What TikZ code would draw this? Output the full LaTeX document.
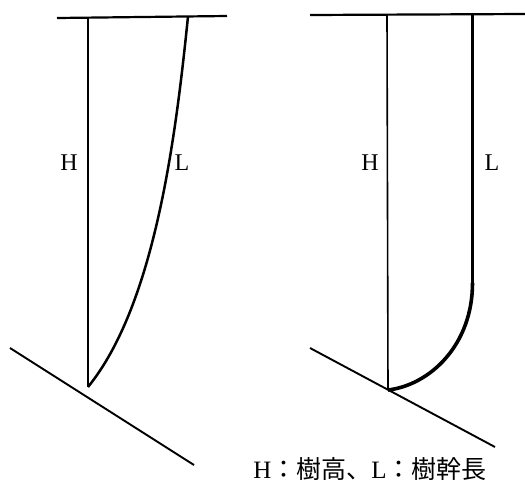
\documentclass[tikz,border=0pt]{standalone}
\usepackage{fontspec}
\setmainfont{Liberation Serif}
\newfontfamily\cjkfont{Noto Sans CJK JP}
\begin{document}
\begin{tikzpicture}[x=1pt,y=-1pt,
  topline/.style={line width=2.2pt},
  hline/.style={line width=1.6pt},
  ground/.style={line width=1.9pt},
  lcurve/.style={line width=2.5pt},
  lab/.style={font=\fontsize{24}{24}\selectfont, inner sep=0pt}]
\useasboundingbox (0,0) rectangle (525,483);
% left figure
\coordinate (lt1) at (57,18);
\coordinate (lt2) at (227,16);
\coordinate (lhtop) at (88,17.5);
\coordinate (lbase) at (88,387);
\coordinate (lltop) at (188,16.5);
\coordinate (lg1) at (10,348);
\coordinate (lg2) at (194,465);
\draw[topline] (lt1) -- (lt2);
\draw[hline] (lhtop) -- (lbase);
\draw[ground] (lg1) -- (lg2);
\draw[lcurve] (lbase) .. controls (155.5,304) and (176,134) .. (lltop);
\node[lab] (lH) at (69,163) {H};
\node[lab] (lL) at (182,163) {L};
% right figure
\coordinate (rt1) at (310,15);
\coordinate (rt2) at (525,14);
\coordinate (rhtop) at (387,14.5);
\coordinate (rbase) at (388,390);
\coordinate (rltop) at (472.5,14.5);
\coordinate (rlbend) at (472.5,283);
\coordinate (rg1) at (310,348);
\coordinate (rg2) at (495,447);
\draw[topline] (rt1) -- (rt2);
\draw[hline] (rhtop) -- (rbase);
\draw[ground] (rg1) -- (rg2);
\draw[line width=2.8pt] (rltop) -- (rlbend);
\draw[line width=3.6pt] (rlbend) .. controls (472.5,345) and (430,385) .. (rbase);
\node[lab] (rH) at (370,163) {H};
\node[lab] (rL) at (492,163) {L};
% caption
\node[inner sep=0pt, anchor=center] (cap) at (370,469)
  {\fontsize{25}{25}\selectfont H{\cjkfont ：樹高、}L{\cjkfont ：樹幹長}};
\end{tikzpicture}
\end{document}
